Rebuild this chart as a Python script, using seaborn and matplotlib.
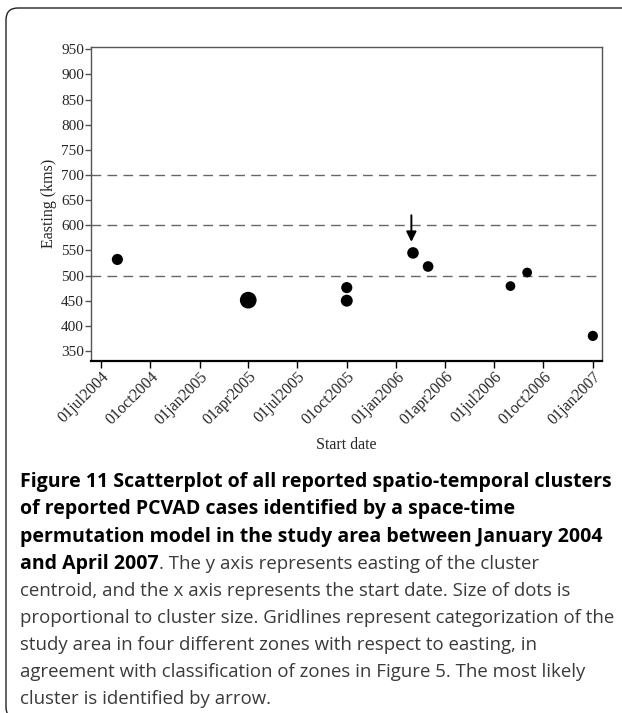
import pandas as pd
import seaborn as sns
import matplotlib.pyplot as plt
import matplotlib.dates as mdates
from matplotlib.ticker import FuncFormatter
from matplotlib.patches import FancyBboxPatch
from matplotlib.transforms import IdentityTransform


# cluster start dates, easting of centroid (kms) and cluster size (dot area)
start_dates = ["2004-08-01", "2005-04-01", "2005-10-01", "2005-10-01", "2006-02-01",
               "2006-03-01", "2006-08-01", "2006-09-01", "2007-01-01"]
easting = [532, 451, 476, 450, 545, 518, 479, 506, 380]
cluster_size = [12, 28, 12, 14, 13, 11, 9, 9, 10]

zone_limits = [500, 600, 700]
most_likely_date = "2006-01-29"
arrow_from, arrow_to = 620, 567

tick_dates = ["2004-07-01", "2004-10-01", "2005-01-01", "2005-04-01", "2005-07-01",
              "2005-10-01", "2006-01-01", "2006-04-01", "2006-07-01", "2006-10-01",
              "2007-01-01"]
y_ticks = list(range(350, 951, 50))

caption_bold = ["Figure 11 Scatterplot of all reported spatio-temporal clusters",
                "of reported PCVAD cases identified by a space-time",
                "permutation model in the study area between January 2004",
                "and April 2007"]
caption_rest = [". The y axis represents easting of the cluster",
                "centroid, and the x axis represents the start date. Size of dots is",
                "proportional to cluster size. Gridlines represent categorization of the",
                "study area in four different zones with respect to easting, in",
                "agreement with classification of zones in Figure 5. The most likely",
                "cluster is identified by arrow."]

df = pd.DataFrame({"date": pd.to_datetime(start_dates), "easting": easting, "size": cluster_size})

sns.set_style("ticks")
plt.rcParams["font.family"] = ["Liberation Serif", "DejaVu Serif"]

W, H = 622, 713
fig = plt.figure(figsize=(W / 100, H / 100), dpi=100)
ax = fig.add_axes([91 / W, 1 - 360.5 / H, 511 / W, 313.5 / H])

for z in zone_limits:
    ax.axhline(z, color="#666666", lw=1, dashes=(7, 4.5), zorder=1)

sns.scatterplot(data=df, x="date", y="easting", size="size", sizes=(49, 145),
                color="black", linewidth=0, legend=False, ax=ax, zorder=3)

ax.annotate("", xy=(pd.Timestamp(most_likely_date), arrow_to),
            xytext=(pd.Timestamp(most_likely_date), arrow_from),
            arrowprops=dict(arrowstyle="-|>", color="black", lw=1.4, mutation_scale=15,
                            shrinkA=0, shrinkB=0))

ax.set_xlim(pd.Timestamp("2004-06-13"), pd.Timestamp("2007-01-18"))
ax.set_ylim(331, 954.6)
ax.set_yticks(y_ticks)
ax.set_xticks(pd.to_datetime(tick_dates))
ax.xaxis.set_major_formatter(FuncFormatter(lambda v, p: mdates.num2date(v).strftime("%d%b%Y").lower()))
ax.tick_params(axis="y", labelsize=11, length=4, width=1, color="#555555", pad=1)
ax.tick_params(axis="x", labelsize=11.5, length=5, width=1, color="black", pad=1)
plt.setp(ax.get_xticklabels(), rotation=45, ha="right", rotation_mode="anchor")
ax.set_xlabel("Start date", fontsize=11.5, labelpad=6)
ax.set_ylabel("Easting (kms)", fontsize=11.5, labelpad=3)

for side in ["left", "top", "right"]:
    ax.spines[side].set_color("#555555")
    ax.spines[side].set_linewidth(1)
ax.spines["bottom"].set_color("black")
ax.spines["bottom"].set_linewidth(1.6)

# frame around the figure
fig.add_artist(FancyBboxPatch((6, -6), 660, H - 8 + 6, boxstyle="round,pad=0,rounding_size=12",
                              transform=IdentityTransform(), fill=False, ec="#222222", lw=1))

# caption: bold title lines, then the regular text
line_y = [487, 514, 542, 569, 596, 623, 650, 677, 704]
cap_font = ["Open Sans", "DejaVu Sans"]
for i, t in enumerate(caption_bold):
    last = fig.text(20 / W, 1 - line_y[i] / H, t, fontsize=14, fontweight="bold",
                    family=cap_font, color="black", va="baseline")
fig.canvas.draw()
bb = last.get_window_extent()
fig.text(bb.x1 / W, 1 - line_y[3] / H, caption_rest[0], fontsize=13.4, family=cap_font,
         color="#3a3a3a", va="baseline")
for j, t in enumerate(caption_rest[1:]):
    fig.text(20 / W, 1 - line_y[4 + j] / H, t, fontsize=13.4, family=cap_font,
             color="#3a3a3a", va="baseline")

fig.savefig("out.png", dpi=100)
